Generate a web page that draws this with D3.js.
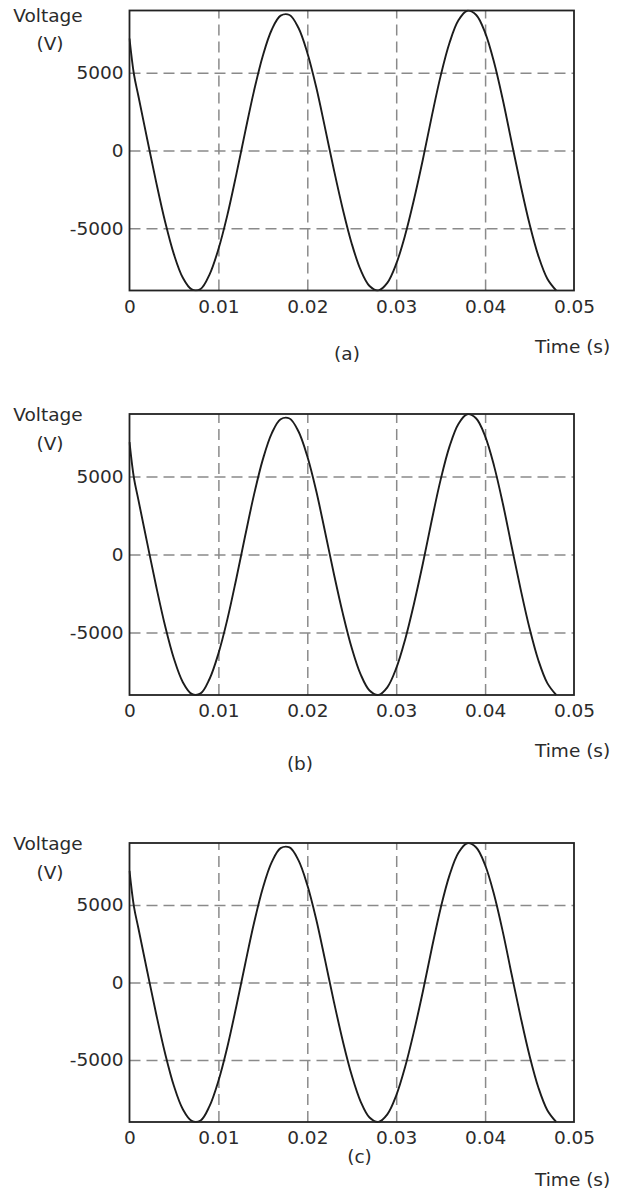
<!DOCTYPE html>
<html>
<head>
<meta charset="utf-8">
<script src="https://cdn.jsdelivr.net/npm/d3@7"></script>
<style>
  body { margin: 0; background: #fff; }
  svg { display: block; }
</style>
</head>
<body>
<svg id="chart" width="623" height="1189"></svg>
<script>
// samples: time (s) and voltage (V)
const timeS = [0, 0.0005, 0.001, 0.002, 0.003, 0.004, 0.005, 0.006, 0.007, 0.008, 0.009,
  0.010, 0.011, 0.012, 0.013, 0.014, 0.015, 0.016, 0.017, 0.018, 0.019,
  0.020, 0.021, 0.022, 0.023, 0.024, 0.025, 0.026, 0.027, 0.028, 0.029,
  0.030, 0.031, 0.032, 0.033, 0.034, 0.035, 0.036, 0.037, 0.038, 0.039,
  0.040, 0.041, 0.042, 0.043, 0.044, 0.045, 0.046, 0.047, 0.048];
const voltageV = [7200, 4900, 3500, 710, -2035, -4567, -6679, -8179, -8929, -8900, -7976,
  -6351, -4172, -1581, 1165, 3818, 6094, 7762, 8667, 8711, 7892,
  6289, 4078, 1441, -1264, -3789, -5990, -7679, -8709, -8994, -8508,
  -7294, -5454, -3155, -581, 2194, 4796, 6925, 8366, 8983, 8711,
  7580, 5693, 3249, 483, -2233, -4727, -6790, -8241, -9000];

const xTicks = [0, 0.01, 0.02, 0.03, 0.04, 0.05];
const xTickLabels = ["0", "0.01", "0.02", "0.03", "0.04", "0.05"];
const yTicks = [5000, 0, -5000];
const yTickLabels = ["5000", "0", "-5000"];
const panelLabels = ["(a)", "(b)", "(c)"];
const yTitle = ["Voltage", "(V)"];
const xTitle = "Time (s)";

const FONT = "'DejaVu Sans', sans-serif";
const FS = 18.5;
const INK = "#2b2b2b";

var left = 129.5, right = 574;

// per panel placement
var panels = [
  {top: 10.5, bottom: 290.5, vY: 21.5, uY: 50, timeY: 353, capX: 347, capY: 360},
  {top: 414, bottom: 695, vY: 420.5, uY: 449.5, timeY: 756.5, capX: 300, capY: 770},
  {top: 843, bottom: 1122, vY: 850, uY: 879, timeY: 1186, capX: 359.5, capY: 1163}
];

var svg = d3.select("#chart");
svg.append("rect").attr("width", 623).attr("height", 1189).attr("fill", "#fff");

var data = timeS.map(function(t, i) { return {t: t, v: voltageV[i]}; });

panels.forEach(function(p, k) {
  var x = d3.scaleLinear().domain([0, 0.05]).range([left, right]);
  var y = d3.scaleLinear().domain([-9000, 9000]).range([p.bottom, p.top]);
  var w = right - left, h = p.bottom - p.top;

  var g = svg.append("g");

  // dashed grid
  g.append("g")
    .attr("transform", "translate(0," + p.bottom + ")")
    .call(d3.axisBottom(x).tickValues(xTicks.slice(1, -1)).tickSize(-h).tickFormat(""))
    .call(function(a) { a.select(".domain").remove(); })
    .selectAll("line")
    .attr("stroke", "#8a8a8a").attr("stroke-width", 1.5).attr("stroke-dasharray", "11,6");

  g.append("g")
    .attr("transform", "translate(" + left + ",0)")
    .call(d3.axisLeft(y).tickValues(yTicks).tickSize(-w).tickFormat(""))
    .call(function(a) { a.select(".domain").remove(); })
    .selectAll("line")
    .attr("stroke", "#8a8a8a").attr("stroke-width", 1.5).attr("stroke-dasharray", "11,6");

  // clip so the curve sits on the frame
  var clipId = "clip" + k;
  svg.append("clipPath").attr("id", clipId)
    .append("rect").attr("x", left - 1).attr("y", p.top - 1).attr("width", w + 2).attr("height", h + 2);

  var line = d3.line()
    .x(function(d) { return x(d.t); })
    .y(function(d) { return y(d.v); })
    .curve(d3.curveCatmullRom.alpha(0.5));

  g.append("path")
    .datum(data)
    .attr("clip-path", "url(#" + clipId + ")")
    .attr("fill", "none")
    .attr("stroke", "#1c1c1c")
    .attr("stroke-width", 1.9)
    .attr("d", line);

  // frame
  g.append("rect")
    .attr("x", left).attr("y", p.top).attr("width", w).attr("height", h)
    .attr("fill", "none").attr("stroke", "#222").attr("stroke-width", 1.8);

  // tick labels
  var xa = g.append("g")
    .attr("transform", "translate(0," + p.bottom + ")")
    .call(d3.axisBottom(x).tickValues(xTicks).tickSize(0).tickPadding(9)
      .tickFormat(function(d, i) { return xTickLabels[i]; }));
  xa.select(".domain").remove();
  xa.selectAll("text").attr("font-family", FONT).attr("font-size", FS).attr("fill", INK);

  var ya = g.append("g")
    .attr("transform", "translate(" + left + ",0)")
    .call(d3.axisLeft(y).tickValues(yTicks).tickSize(0).tickPadding(6)
      .tickFormat(function(d, i) { return yTickLabels[i]; }));
  ya.select(".domain").remove();
  ya.selectAll("text").attr("font-family", FONT).attr("font-size", FS).attr("fill", INK);

  // titles
  var txt = function(s, tx, ty, anchor) {
    g.append("text").attr("x", tx).attr("y", ty)
      .attr("text-anchor", anchor)
      .attr("font-family", FONT).attr("font-size", FS).attr("fill", INK)
      .text(s);
  };
  txt(yTitle[0], 48, p.vY, "middle");
  txt(yTitle[1], 50, p.uY, "middle");
  txt(xTitle, 535, p.timeY, "start");
  txt(panelLabels[k], p.capX, p.capY, "middle");
});
</script>
</body>
</html>
